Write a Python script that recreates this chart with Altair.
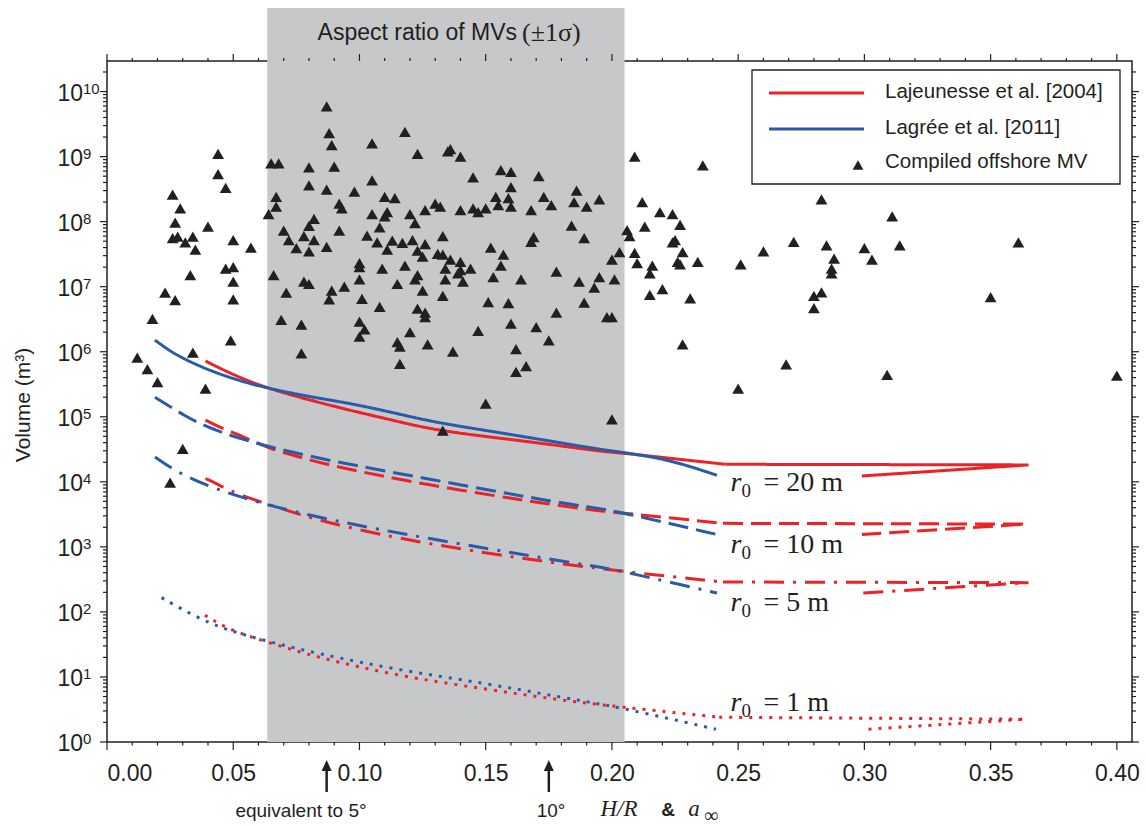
import altair as alt
import pandas as pd

RED = "#ec2227"
BLUE = "#2b5ba8"
INK = "#231f20"
BAND = "#c7c8ca"
SANS = "Liberation Sans"
SERIF = "Liberation Serif"

# ---------------- compiled offshore mud volcanoes ----------------
mv_hr = [
    0.012, 0.016, 0.020, 0.018, 0.023, 0.027, 0.026, 0.029, 0.027, 0.026,
    0.028, 0.031, 0.034, 0.035, 0.033, 0.034, 0.030, 0.025, 0.039, 0.040,
    0.044, 0.044, 0.047, 0.047, 0.050, 0.050, 0.050, 0.050, 0.049, 0.057,
    0.065, 0.068, 0.067, 0.067, 0.064, 0.070, 0.072, 0.075, 0.066, 0.071,
    0.069, 0.077, 0.077, 0.080, 0.080, 0.087, 0.090, 0.087, 0.088, 0.089,
    0.078, 0.080, 0.082, 0.082, 0.080, 0.078, 0.080, 0.087, 0.088, 0.089,
    0.092, 0.093, 0.092, 0.094, 0.098, 0.100, 0.100, 0.100, 0.101, 0.100,
    0.102, 0.100, 0.105, 0.105, 0.105, 0.103, 0.107, 0.108, 0.110, 0.114,
    0.110, 0.111, 0.113, 0.111, 0.109, 0.108, 0.117, 0.118, 0.115, 0.120,
    0.122, 0.118, 0.123, 0.121, 0.123, 0.126, 0.125, 0.123, 0.122, 0.125,
    0.123, 0.126, 0.126, 0.120, 0.115, 0.116, 0.116, 0.127, 0.126, 0.130,
    0.132, 0.133, 0.131, 0.133, 0.136, 0.134, 0.134, 0.133, 0.137, 0.133,
    0.135, 0.136, 0.140, 0.145, 0.140, 0.140, 0.139, 0.140, 0.144, 0.141,
    0.145, 0.147, 0.150, 0.152, 0.153, 0.151, 0.147, 0.150, 0.154, 0.155,
    0.156, 0.156, 0.160, 0.171, 0.160, 0.159, 0.160, 0.168, 0.173, 0.176,
    0.186, 0.185, 0.190, 0.195, 0.184, 0.189, 0.169, 0.168, 0.157, 0.164,
    0.178, 0.187, 0.195, 0.193, 0.201, 0.200, 0.203, 0.206, 0.207, 0.209,
    0.159, 0.189, 0.178, 0.160, 0.170, 0.175, 0.162, 0.166, 0.162, 0.200,
    0.198, 0.200, 0.212, 0.219, 0.224, 0.227, 0.213, 0.224, 0.225, 0.228,
    0.226, 0.227, 0.234, 0.209, 0.210, 0.216, 0.215, 0.215, 0.220, 0.231,
    0.228, 0.236, 0.250, 0.269, 0.251, 0.260, 0.272, 0.285, 0.288, 0.287,
    0.287, 0.283, 0.280, 0.280, 0.283, 0.300, 0.303, 0.311, 0.314, 0.361,
    0.350, 0.309, 0.400,
]
mv_vol = [
    8.1e5, 5.4e5, 3.4e5, 3.2e6, 8.1e6, 6.2e6, 2.6e8, 1.6e8, 9.7e7, 5.6e7,
    5.9e7, 4.8e7, 5.9e7, 3.7e7, 1.5e7, 9.7e5, 3.2e4, 9.7e3, 2.7e5, 8.4e7,
    1.1e9, 5.4e8, 3.3e8, 1.9e7, 2.0e7, 5.2e7, 1.2e7, 6.4e6, 1.5e6, 4.0e7,
    7.9e8, 7.9e8, 2.4e8, 1.7e8, 1.3e8, 7.3e7, 5.2e7, 3.9e7, 1.5e7, 8.1e6,
    3.1e6, 2.6e6, 9.4e5, 6.8e8, 3.6e8, 3.1e8, 7.0e8, 5.9e9, 2.3e9, 1.5e9,
    6.0e7, 8.6e7, 1.1e8, 5.2e7, 3.5e7, 1.2e7, 1.1e7, 4.1e7, 6.4e6, 8.7e6,
    1.9e8, 1.6e8, 7.3e7, 1.0e7, 2.9e8, 2.3e7, 2.0e7, 1.3e7, 6.5e6, 2.9e6,
    2.2e6, 1.7e6, 1.3e8, 4.3e8, 1.6e9, 6.1e7, 4.8e7, 8.2e7, 2.4e8, 2.3e8,
    1.2e8, 1.4e8, 5.1e7, 3.7e7, 1.9e7, 4.9e6, 4.7e7, 2.1e7, 1.1e7, 1.3e8,
    9.5e7, 2.4e9, 1.1e9, 5.2e7, 3.6e7, 4.5e7, 2.9e7, 1.5e7, 1.3e7, 8.7e6,
    4.6e6, 4.0e6, 3.4e6, 2.0e6, 1.4e6, 1.2e6, 6.5e5, 1.3e6, 1.5e8, 1.9e8,
    1.7e8, 6.0e7, 3.2e7, 3.1e7, 2.6e7, 1.9e7, 1.3e7, 7.2e6, 1.0e6, 6.1e4,
    1.2e9, 1.3e9, 1.0e9, 4.8e8, 1.5e8, 2.4e7, 1.6e7, 1.8e7, 1.9e7, 1.2e7,
    1.6e8, 1.4e8, 1.6e8, 4.0e7, 1.4e7, 5.8e6, 2.1e6, 1.6e5, 2.4e8, 1.8e8,
    2.1e7, 6.2e8, 5.8e8, 5.0e8, 3.4e8, 2.3e8, 1.7e8, 1.5e8, 2.4e8, 1.8e8,
    3.0e8, 2.0e8, 1.7e8, 2.2e8, 8.7e7, 5.6e7, 5.8e7, 4.9e7, 3.1e7, 1.3e7,
    1.7e7, 1.2e7, 1.4e7, 9.7e6, 1.3e7, 2.6e7, 3.4e7, 7.4e7, 6.0e7, 1.0e9,
    5.6e6, 5.7e6, 4.0e6, 2.7e6, 2.4e6, 1.5e6, 1.1e6, 6.0e5, 4.9e5, 9.1e4,
    3.4e6, 3.4e6, 2.0e8, 1.4e8, 1.3e8, 8.9e7, 8.4e7, 4.8e7, 5.2e7, 3.4e7,
    2.4e7, 2.2e7, 2.4e7, 3.3e7, 2.3e7, 2.1e7, 1.6e7, 7.5e6, 9.2e6, 6.6e6,
    1.3e6, 7.3e8, 2.7e5, 6.4e5, 2.2e7, 3.5e7, 4.9e7, 4.3e7, 2.7e7, 1.9e7,
    1.6e7, 8.2e6, 7.2e6, 4.7e6, 2.2e8, 3.9e7, 2.6e7, 1.2e8, 4.3e7, 4.8e7,
    6.9e6, 4.4e5, 4.3e5,
]

# ---------------- model curves (H/R or a_inf vs. volume) ----------------
# Lajeunesse et al. [2004]: smooth main branch, then a straight plateau and return leg
laj20_hr = [0.039, 0.050, 0.0634, 0.080, 0.096, 0.113, 0.129, 0.155, 0.175, 0.195, 0.205, 0.223, 0.245]
laj20_vol = [7.2e5, 4.4e5, 2.75e5, 1.82e5, 1.26e5, 8.9e4, 6.3e4, 4.7e4, 3.8e4, 2.95e4, 2.75e4, 2.3e4, 1.86e4]
laj20_tail_hr = [0.245, 0.365, 0.299]
laj20_tail_vol = [1.86e4, 1.82e4, 1.23e4]

laj10_hr = [0.039, 0.0428, 0.0554, 0.0645, 0.0765, 0.087, 0.1267, 0.177, 0.1953, 0.205, 0.244]
laj10_vol = [8.9e4, 7.4e4, 4.7e4, 3.2e4, 2.4e4, 1.82e4, 8.9e3, 4.4e3, 3.55e3, 3.3e3, 2.3e3]
laj10_tail_hr = [0.244, 0.364, 0.299]
laj10_tail_vol = [2.3e3, 2.24e3, 1.55e3]

laj5_hr = [0.039, 0.0421, 0.050, 0.0646, 0.087, 0.1267, 0.177, 0.1953, 0.2046, 0.244]
laj5_vol = [1.12e4, 1.0e4, 6.8e3, 4.4e3, 2.3e3, 1.1e3, 562, 468, 417, 288]
laj5_tail_hr = [0.244, 0.365, 0.299]
laj5_tail_vol = [288, 282, 195]

laj1_hr = [0.0388, 0.0487, 0.0639, 0.0831, 0.1161, 0.1491, 0.1795, 0.2019, 0.2425]
laj1_vol = [89, 52, 34, 20, 10.2, 6.6, 4.4, 3.5, 2.4]
laj1_tail_hr = [0.2425, 0.3637, 0.299]
laj1_tail_vol = [2.4, 2.24, 1.55]

# Lagree et al. [2011]
lag20_hr = [0.019, 0.0236, 0.0276, 0.0368, 0.050, 0.0634, 0.080, 0.096, 0.113, 0.129, 0.155, 0.175, 0.195, 0.205, 0.223, 0.2416]
lag20_vol = [1.51e6, 1.12e6, 8.9e5, 5.9e5, 3.8e5, 2.75e5, 2.04e5, 1.62e5, 1.17e5, 8.3e4, 5.75e4, 4.27e4, 3.16e4, 2.82e4, 2.19e4, 1.26e4]

lag10_hr = [0.019, 0.0313, 0.0418, 0.0606, 0.087, 0.1267, 0.177, 0.1953, 0.205, 0.2416]
lag10_vol = [2.0e5, 1.0e5, 6.3e4, 3.7e4, 2.14e4, 1.12e4, 4.9e3, 3.9e3, 3.3e3, 1.55e3]

lag5_hr = [0.019, 0.0276, 0.0421, 0.0606, 0.087, 0.1267, 0.177, 0.1953, 0.2046, 0.2416]
lag5_vol = [2.4e4, 1.41e4, 7.9e3, 4.7e3, 2.63e3, 1.35e3, 631, 490, 417, 195]

lag1_hr = [0.0216, 0.0362, 0.0487, 0.0639, 0.0831, 0.1161, 0.1491, 0.1795, 0.2019, 0.2412]
lag1_vol = [166, 79, 51, 35, 23, 12.6, 8.1, 4.9, 3.5, 1.57]

# aspect-ratio band of mud volcanoes (mean +/- 1 sigma)
band_lo, band_hi = 0.0635, 0.205

# reference slopes marked under the axis (tan 5 deg, tan 10 deg)
arrow_hr = [0.087, 0.175]

# r0 labels: text, anchor H/R, anchor volume
r0_text = ["= 20 m", "= 10 m", "= 5 m", "= 1 m"]
r0_hr = [0.247, 0.247, 0.247, 0.247]
r0_vol = [9.5e3, 1.07e3, 135, 4.0]

x_tick_labels = [0.0, 0.05, 0.10, 0.15, 0.20, 0.25, 0.30, 0.35, 0.40]
y_exponents = list(range(0, 11))

# ---------------- geometry ----------------
W, H = 1025, 681
x_scale = alt.Scale(domain=[0, 0.406], nice=False, zero=False)
y_scale = alt.Scale(type="log", domain=[1, 2.95e10], nice=False)
x_axis = alt.Axis(values=x_tick_labels, format=".2f", ticks=False, tickSize=0, domain=False,
                  grid=False, title=None, labelPadding=20, labelFontSize=23, labelFont=SANS,
                  labelColor=INK)


def X(field):
    return alt.X(field, scale=x_scale, axis=x_axis)


def Y(field):
    return alt.Y(field, scale=y_scale, axis=None)


def one_row(**kw):
    return pd.DataFrame({k: [v] for k, v in kw.items()})


def note(text, x, y, **mark):
    return alt.Chart(one_row(t=text)).mark_text(**mark).encode(
        x=alt.value(x), y=alt.value(y), text="t:N")


# ---------------- background band ----------------
band = alt.Chart(one_row(lo=band_lo, hi=band_hi)).mark_rect(color=BAND, clip=False).encode(
    x=X("lo:Q"), x2="hi:Q", y=alt.value(-53), y2=alt.value(H))

band_title = alt.layer(
    note("Aspect ratio of MVs", 410, -28, font=SANS, fontSize=23, align="right",
         baseline="middle", color=INK),
    note("(\u00b11\u03c3)", 415, -28, font=SERIF, fontSize=26, align="left",
         baseline="middle", color=INK),
)

# ---------------- model curves ----------------
def series(model, r0, part, xs, vs):
    return [{"model": model, "r0": r0, "part": f"{model}-{r0}-{part}", "step": i,
             "hr": a, "vol": b} for i, (a, b) in enumerate(zip(xs, vs))]


red_smooth = (series("laj", "20 m", "a", laj20_hr, laj20_vol)
              + series("laj", "10 m", "a", laj10_hr, laj10_vol)
              + series("laj", "5 m", "a", laj5_hr, laj5_vol)
              + series("laj", "1 m", "a", laj1_hr, laj1_vol))
red_tail = (series("laj", "20 m", "b", laj20_tail_hr, laj20_tail_vol)
            + series("laj", "10 m", "b", laj10_tail_hr, laj10_tail_vol)
            + series("laj", "5 m", "b", laj5_tail_hr, laj5_tail_vol)
            + series("laj", "1 m", "b", laj1_tail_hr, laj1_tail_vol))
blue_smooth = (series("lag", "20 m", "a", lag20_hr, lag20_vol)
               + series("lag", "10 m", "a", lag10_hr, lag10_vol)
               + series("lag", "5 m", "a", lag5_hr, lag5_vol)
               + series("lag", "1 m", "a", lag1_hr, lag1_vol))

dash_scale = alt.Scale(domain=["20 m", "10 m", "5 m", "1 m"],
                       range=[[1, 0], [20, 8], [20, 9, 3, 9], [3, 7]])


def curve_layer(rows, color, interp):
    return alt.Chart(pd.DataFrame(rows)).mark_line(
        color=color, strokeWidth=3, interpolate=interp, clip=True, strokeCap="butt"
    ).encode(
        x=X("hr:Q"), y=Y("vol:Q"),
        strokeDash=alt.StrokeDash("r0:N", scale=dash_scale, legend=None),
        detail="part:N", order="step:Q",
    )


red_lines = alt.layer(curve_layer(red_smooth, RED, "basis"),
                      curve_layer(red_tail, RED, "linear"))
blue_lines = curve_layer(blue_smooth, BLUE, "basis")

# ---------------- observations ----------------
scatter = alt.Chart(pd.DataFrame({"hr": mv_hr, "vol": mv_vol})).mark_point(
    shape="triangle-up", filled=True, size=140, color=INK, opacity=1
).encode(x=X("hr:Q"), y=Y("vol:Q"))

# ---------------- ticks on all four sides (outward) ----------------
y_major = [10 ** k for k in y_exponents]
y_minor = [m * 10 ** k for k in y_exponents for m in range(2, 10) if m * 10 ** k <= 2.95e10]
x_all = [round(i * 0.01, 2) for i in range(41)]
x_major = [v for v in x_all if round(v * 100) % 5 == 0]
x_minor = [v for v in x_all if round(v * 100) % 5 != 0]


def yticks(vals, x0, x1):
    return alt.Chart(pd.DataFrame({"v": vals})).mark_rule(color=INK, strokeWidth=1.2).encode(
        y=Y("v:Q"), x=alt.value(x0), x2=alt.value(x1))


def xticks(vals, y0, y1):
    return alt.Chart(pd.DataFrame({"v": vals})).mark_rule(color=INK, strokeWidth=1.2).encode(
        x=X("v:Q"), y=alt.value(y0), y2=alt.value(y1))


ticks = alt.layer(
    yticks(y_major, -7, 0), yticks(y_minor, -4, 0),
    yticks(y_major, W, W + 7), yticks(y_minor, W, W + 4),
    xticks(x_major, H, H + 8), xticks(x_minor, H, H + 3.5),
    xticks(x_major, 0, -7), xticks(x_minor, 0, -3),
)

# ---------------- y labels 10^k ----------------
ylab_df = pd.DataFrame({"v": y_major, "base": ["10"] * len(y_major),
                        "e": [str(k) for k in y_exponents]})
ylab = alt.Chart(ylab_df).mark_text(font=SANS, fontSize=23, align="right", baseline="middle",
                                    color=INK, dy=2).encode(
    y=Y("v:Q"), x=alt.value(-24), text="base:N")
yexp = alt.Chart(ylab_df).mark_text(font=SANS, fontSize=15, align="left", baseline="middle",
                                    color=INK, dy=-3).encode(
    y=Y("v:Q"), x=alt.value(-24), text="e:N")
ytitle = note("Volume (m\u00b3)", -83, 344, font=SANS, fontSize=21, angle=270,
              align="center", baseline="middle", color=INK)

# ---------------- r0 labels ----------------
r0_df = pd.DataFrame({"hr": r0_hr, "vol": r0_vol, "eq": r0_text,
                      "r": ["r"] * 4, "sub": ["0"] * 4})
r0_r = alt.Chart(r0_df).mark_text(font=SERIF, fontStyle="italic", fontSize=28, align="left",
                                  baseline="middle", color=INK).encode(
    x=X("hr:Q"), y=Y("vol:Q"), text="r:N")
r0_sub = alt.Chart(r0_df).mark_text(font=SERIF, fontSize=19, align="left", baseline="middle",
                                    color=INK, dx=11, dy=8).encode(
    x=X("hr:Q"), y=Y("vol:Q"), text="sub:N")
r0_eq = alt.Chart(r0_df).mark_text(font=SERIF, fontSize=28, align="left", baseline="middle",
                                   color=INK, dx=33).encode(
    x=X("hr:Q"), y=Y("vol:Q"), text="eq:N")

# ---------------- legend ----------------
legend_box = alt.Chart(one_row(a=0)).mark_rect(fill="white", stroke=INK, strokeWidth=1.3).encode(
    x=alt.value(645), x2=alt.value(1013), y=alt.value(9), y2=alt.value(123))
leg_red = alt.Chart(one_row(a=0)).mark_rule(color=RED, strokeWidth=3).encode(
    x=alt.value(662), x2=alt.value(757), y=alt.value(32))
leg_blue = alt.Chart(one_row(a=0)).mark_rule(color=BLUE, strokeWidth=3).encode(
    x=alt.value(662), x2=alt.value(757), y=alt.value(68))
leg_tri = alt.Chart(one_row(a=0)).mark_point(shape="triangle-up", filled=True, size=115,
                                             color=INK, opacity=1).encode(
    x=alt.value(751), y=alt.value(104))
leg_text = alt.layer(
    note("Lajeunesse et al. [2004]", 778, 31, font=SANS, fontSize=20.5, align="left",
         baseline="middle", color=INK),
    note("Lagr\u00e9e et al. [2011]", 778, 67, font=SANS, fontSize=20.5, align="left",
         baseline="middle", color=INK),
    note("Compiled offshore MV", 778, 101, font=SANS, fontSize=20.5, align="left",
         baseline="middle", color=INK),
)

# ---------------- slope markers and x label ----------------
arrow_df = pd.DataFrame({"hr": arrow_hr})
arrow_shaft = alt.Chart(arrow_df).mark_rule(color=INK, strokeWidth=2.5).encode(
    x=X("hr:Q"), y=alt.value(710), y2=alt.value(731))
arrow_head = alt.Chart(arrow_df).mark_point(shape="M0,-1.3L1,0.9L-1,0.9Z", filled=True, size=100,
                                            color=INK, opacity=1).encode(
    x=X("hr:Q"), y=alt.value(705.5))
xnotes = alt.layer(
    note("equivalent to 5\u00b0", 194, 750, font=SANS, fontSize=19, align="center",
         baseline="middle", color=INK),
    note("10\u00b0", 444, 750, font=SANS, fontSize=19, align="center", baseline="middle", color=INK),
    note("H/R", 512, 748, font=SERIF, fontStyle="italic", fontSize=23, align="center",
         baseline="middle", color=INK),
    note("&", 561, 749, font=SANS, fontWeight="bold", fontSize=19, align="center",
         baseline="middle", color=INK),
    note("a", 587, 748, font=SERIF, fontStyle="italic", fontSize=23, align="center",
         baseline="middle", color=INK),
    note("\u221e", 604, 755, font=SERIF, fontSize=20, align="center", baseline="middle", color=INK),
)

chart = alt.layer(
    band, band_title, red_lines, blue_lines, scatter, ticks, ylab, yexp, ytitle,
    r0_r, r0_sub, r0_eq, legend_box, leg_red, leg_blue, leg_tri, leg_text,
    arrow_shaft, arrow_head, xnotes,
).properties(
    width=W, height=H,
    padding={"left": 107, "top": 61, "right": 14, "bottom": 84},
    autosize=alt.AutoSizeParams(type="none"),
).configure_view(stroke=INK, strokeWidth=1.5).configure_axis(grid=False)

chart.save("out.html", embed_options={"renderer": "svg", "actions": False})
